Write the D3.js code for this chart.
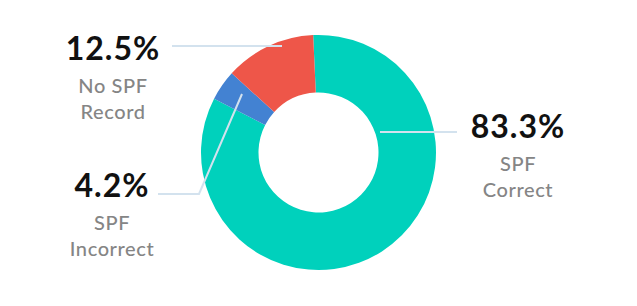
<!DOCTYPE html>
<html>
<head>
<meta charset="utf-8">
<script src="https://cdn.jsdelivr.net/npm/d3@7"></script>
<style>
  body { margin: 0; background: #fff; }
  svg { display: block; font-family: Lato, "Noto Sans", sans-serif; }
</style>
</head>
<body>
<svg id="chart"></svg>
<script>
// dati
var categories = ["SPF Correct", "SPF Incorrect", "No SPF Record"];
var values = [83.3, 4.2, 12.5];
var colors = ["#00d1bc", "#4382d2", "#ee5649"];
var labelLines = [["SPF", "Correct"], ["SPF", "Incorrect"], ["No SPF", "Record"]];

// layout etichette (posizione testo e connettore)
var labelLayout = [
  { x: 518, y: 138, line: [[380, 132], [457, 132]] },
  { x: 112, y: 197, line: [[242, 94], [199, 194], [158, 194]] },
  { x: 113, y: 60, line: [[282, 46], [172, 46]] }
];

var w = 637, h = 306;
var cx = 318.5, cy = 152.5;
var outerR = 117.5, innerR = 60;
var startOff = -2.6 * Math.PI / 180;

var svg = d3.select("#chart").attr("width", w).attr("height", h);

var pie = d3.pie().sort(null)
  .startAngle(startOff)
  .endAngle(startOff + 2 * Math.PI)
  .value(function(d) { return d; });

var arc = d3.arc().innerRadius(innerR).outerRadius(outerR);

var g = svg.append("g").attr("transform", "translate(" + cx + "," + cy + ")");

g.selectAll("path.slice")
  .data(pie(values))
  .enter()
  .append("path")
  .attr("class", "slice")
  .attr("d", arc)
  .attr("fill", function(d, i) { return colors[i]; });

// connettori
var line = d3.line();
svg.selectAll("path.conn")
  .data(labelLayout)
  .enter()
  .append("path")
  .attr("class", "conn")
  .attr("d", function(d) { return line(d.line); })
  .attr("fill", "none")
  .attr("stroke", "#d3e2ee")
  .attr("stroke-width", 2);

// etichette
values.forEach(function(v, i) {
  var L = labelLayout[i];
  var t = svg.append("g").attr("transform", "translate(" + L.x + "," + L.y + ")");
  t.append("text")
    .attr("text-anchor", "middle")
    .style("font-size", "32px")
    .style("font-weight", 700)
    .style("letter-spacing", "1px")
    .style("fill", "#111")
    .text(v.toFixed(1) + "%");
  labelLines[i].forEach(function(s, j) {
    t.append("text")
      .attr("text-anchor", "middle")
      .attr("y", 33 + j * 26)
      .style("font-size", "20px")
      .style("font-weight", 500)
      .style("letter-spacing", "0.6px")
      .style("fill", "#858585")
      .text(s);
  });
});
</script>
</body>
</html>
